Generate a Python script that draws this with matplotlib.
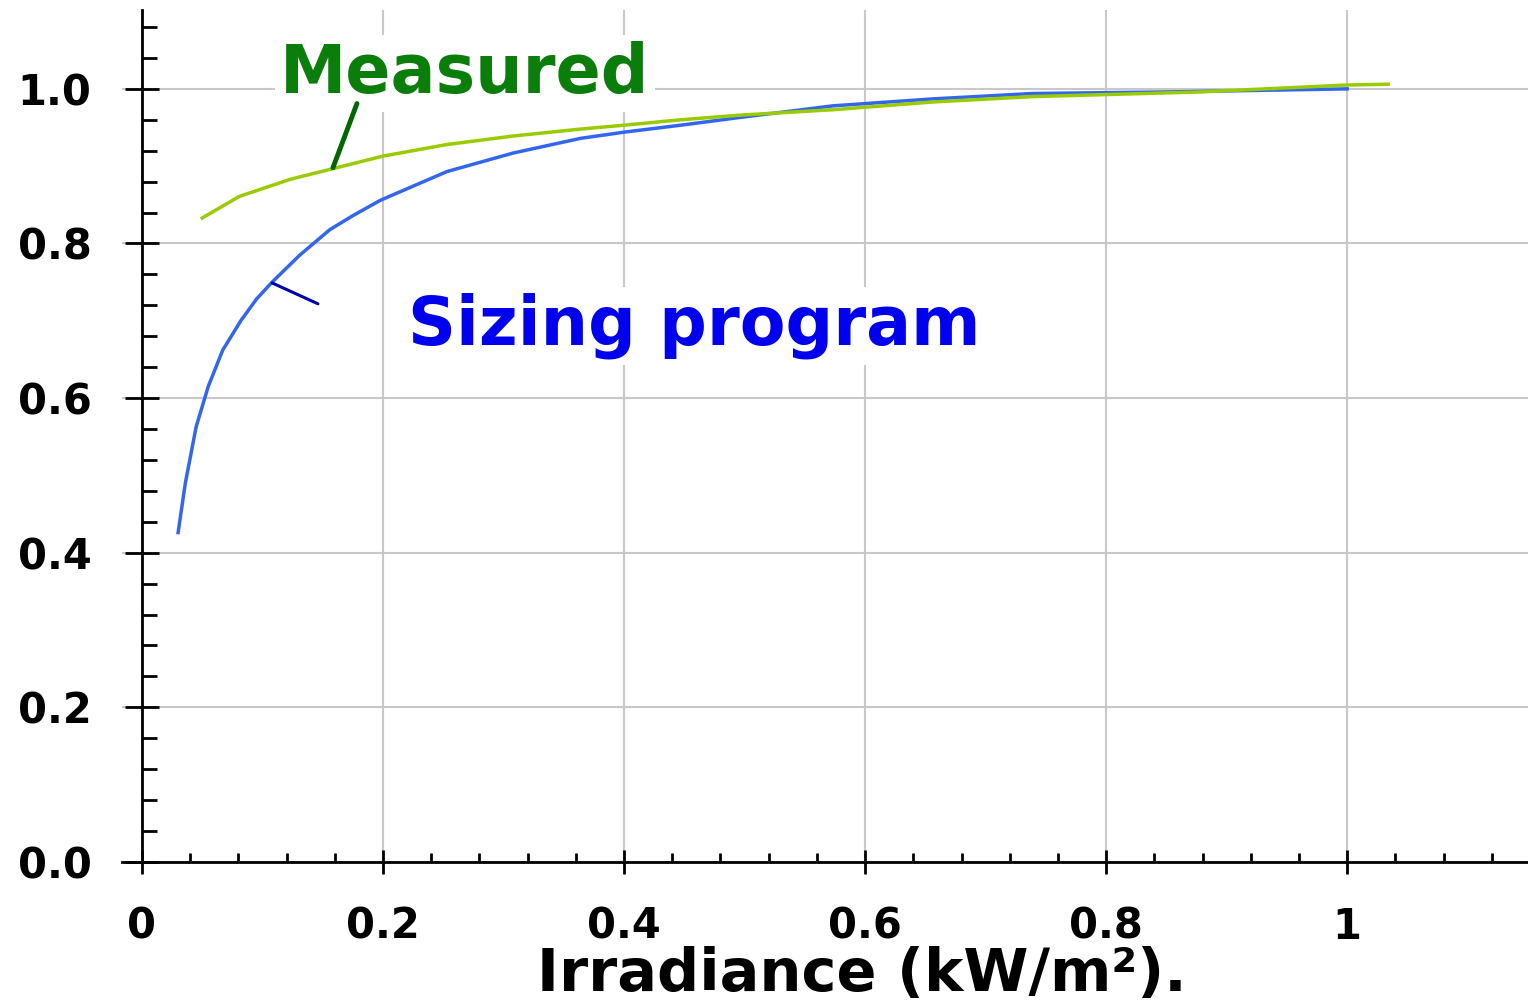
import matplotlib
matplotlib.use('Agg')
import matplotlib.pyplot as plt
from matplotlib.ticker import MultipleLocator, FormatStrFormatter, FuncFormatter

# curve: sizing program (blue)
sizing_x = [0.030, 0.036, 0.045, 0.055, 0.067, 0.082, 0.095, 0.108, 0.131, 0.156,
            0.175, 0.198, 0.253, 0.308, 0.364, 0.400, 0.447, 0.496, 0.573, 0.656,
            0.739, 0.850, 1.000]
sizing_y = [0.426, 0.490, 0.563, 0.615, 0.662, 0.700, 0.728, 0.750, 0.785, 0.818,
            0.836, 0.856, 0.893, 0.917, 0.936, 0.944, 0.953, 0.963, 0.978, 0.987,
            0.994, 0.996, 1.000]

# measured curve (yellow-green)
measured_x = [0.050, 0.081, 0.123, 0.159, 0.200, 0.253, 0.308, 0.364, 0.400, 0.447,
              0.496, 0.573, 0.656, 0.739, 0.878, 1.000, 1.034]
measured_y = [0.833, 0.861, 0.883, 0.897, 0.913, 0.928, 0.939, 0.948, 0.953, 0.960,
              0.966, 0.973, 0.983, 0.990, 0.996, 1.005, 1.006]

x_ticks = [0, 0.2, 0.4, 0.6, 0.8, 1.0]
y_ticks = [0.0, 0.2, 0.4, 0.6, 0.8, 1.0]

fig = plt.figure(figsize=(15.28, 10.01), dpi=100)
ax = fig.add_axes([0.0798, 0.1389, 0.9202, 0.8511])

ax.plot(sizing_x, sizing_y, color='#3366ee', lw=2.5, zorder=4, solid_joinstyle='round')
ax.plot(measured_x, measured_y, color='#99cc00', lw=2.5, zorder=4, solid_joinstyle='round')

ax.set_xlim(-0.0166, 1.15)
ax.set_ylim(0, 1.102)

for s in ['top', 'right']:
    ax.spines[s].set_visible(False)
ax.spines['left'].set_position(('data', 0))
ax.spines['left'].set_linewidth(2)
ax.spines['bottom'].set_linewidth(2)

ax.set_xticks(x_ticks)
ax.set_yticks(y_ticks)
ax.xaxis.set_minor_locator(MultipleLocator(0.04))
ax.yaxis.set_minor_locator(MultipleLocator(0.04))
ax.xaxis.set_major_formatter(FuncFormatter(lambda v, p: '%g' % v))
ax.yaxis.set_major_formatter(FormatStrFormatter('%.1f'))

ax.tick_params(axis='x', which='major', direction='inout', length=17.3, width=2, pad=23,
               labelsize=30)
ax.tick_params(axis='y', which='major', direction='inout', length=24.5, width=2, pad=24,
               labelsize=30)
ax.tick_params(axis='x', which='minor', direction='in', length=6.5, width=2)
ax.tick_params(axis='y', which='minor', direction='in', length=10.8, width=2)
for lab in ax.get_xticklabels() + ax.get_yticklabels():
    lab.set_fontweight('bold')

ax.grid(True, which='major', color='#c8c8c8', lw=1.5, zorder=0)
ax.set_axisbelow(True)

ax.set_xlabel('Irradiance (kW/m²).', fontsize=42.5, fontweight='bold')
ax.xaxis.label.set_va('baseline')
ax.xaxis.set_label_coords(0.526, -0.152)

# labels with leader lines
ax.text(0.268, 0.995, 'Measured', color='#0a7d0a', fontsize=48, fontweight='bold',
        ha='center', va='baseline', zorder=3,
        bbox=dict(fc='white', ec='none', pad=4))
ax.annotate('', xy=(0.1585, 0.898), xytext=(0.1784, 0.981),
            arrowprops=dict(arrowstyle='-', color='#006600', lw=3.5,
                            shrinkA=0, shrinkB=0), zorder=5)

ax.text(0.458, 0.669, 'Sizing program', color='#0000ee', fontsize=48, fontweight='bold',
        ha='center', va='baseline', zorder=3,
        bbox=dict(fc='white', ec='none', pad=4))
ax.annotate('', xy=(0.108, 0.749), xytext=(0.146, 0.722),
            arrowprops=dict(arrowstyle='-', color='#0000aa', lw=2.2,
                            shrinkA=0, shrinkB=0), zorder=5)

fig.savefig('out.png', dpi=100)
